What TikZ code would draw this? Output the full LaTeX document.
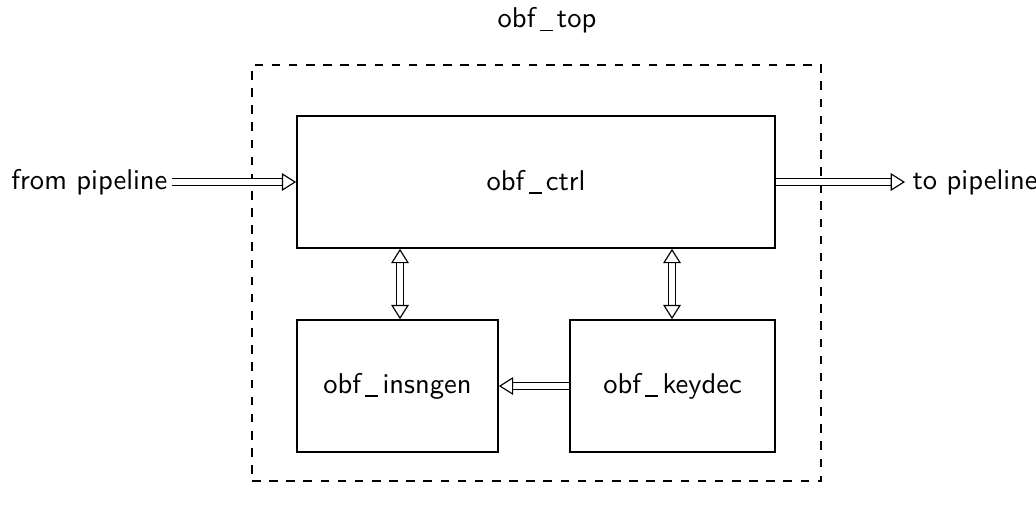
\documentclass[tikz,border=0pt]{standalone}
\usepackage{tikz}
\usetikzlibrary{arrows.meta}
\newcommand\usc{\kern0.15em\rule[-0.3ex]{0.45em}{0.55pt}\kern0.15em}

\begin{document}
\begin{tikzpicture}[x=0.35pt, y=-0.35pt, font=\sffamily,
        blk/.style={draw, semithick, inner sep=0pt},
        bus/.style={double, double distance=1.8pt, -{Triangle[open, length=5pt, width=6.2pt]}},
        busboth/.style={double, double distance=1.8pt, {Triangle[open, length=5pt, width=6.2pt]}-{Triangle[open, length=5pt, width=6.2pt]}}]
                \useasboundingbox (0,0) rectangle (1036,509);
                \node[blk, dashed, minimum width=199.15pt, minimum height=145.6pt] (top) at (536.5,273) {};
                \node (toplbl) at (547,20) {obf\usc top};
                \node[blk, minimum width=167.3pt, minimum height=46.2pt] (ctrl) at (536,182) {obf\usc ctrl};
                \node[blk, minimum width=70.35pt, minimum height=46.2pt] (insngen) at (397.5,386) {obf\usc insngen};
                \node[blk, minimum width=71.75pt, minimum height=46.2pt] (keydec) at (672.5,386) {obf\usc keydec};
                \node[anchor=east, inner sep=0pt] (src) at (168,182) {from pipeline};
                \node[anchor=west, inner sep=0pt] (dst) at (912,182) {to pipeline};
                % buses
                \draw[bus] (src.east) ++(4,0) -- (ctrl.west);
                \draw[bus] (ctrl.east) -- ([xshift=-2.45pt]dst.west);
                \draw[busboth] (ctrl.south -| 400,0) -- (insngen.north -| 400,0);
                \draw[busboth] (ctrl.south -| 672,0) -- (keydec.north -| 672,0);
                \draw[bus] (keydec.west) -- (insngen.east);
            \end{tikzpicture}
\end{document}
